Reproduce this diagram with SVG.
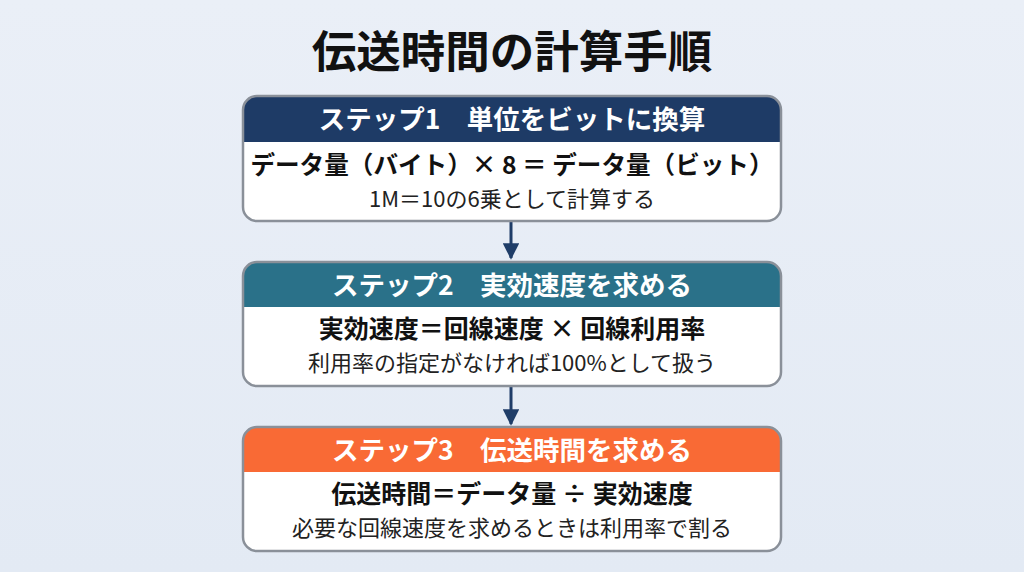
<svg xmlns="http://www.w3.org/2000/svg" width="1024" height="572" viewBox="0 0 1024 572">
<defs>
<linearGradient id="bg" x1="0" y1="0" x2="0" y2="1">
<stop offset="0" stop-color="#eaeff7"/>
<stop offset="1" stop-color="#e3eaf4"/>
</linearGradient>
<marker id="arr" viewBox="0 0 10 10" refX="9" refY="5" markerWidth="5.5" markerHeight="5.5" orient="auto" markerUnits="strokeWidth">
<path d="M0,0 L10,5 L0,10 z" fill="#1f3d68"/>
</marker>
<clipPath id="c1"><rect x="243" y="96" width="538" height="125" rx="14"/></clipPath>
<clipPath id="c2"><rect x="243" y="262" width="538" height="124" rx="14"/></clipPath>
<clipPath id="c3"><rect x="243" y="427" width="538" height="124" rx="14"/></clipPath>
</defs>
<style>
text{font-family:"Noto Sans CJK JP","Noto Sans",sans-serif;text-anchor:middle}
.title{font-size:44.5px;font-weight:700;fill:#111}
.hd{font-size:26.5px;font-weight:700;fill:#fff}
.main{font-size:25px;font-weight:700;fill:#111}
.sub{font-size:22px;font-weight:400;fill:#222}
.frame{fill:none;stroke:#8a9099;stroke-width:2.5}
.body{fill:#fff}
.conn{stroke:#1f3d68;stroke-width:3;fill:none}
</style>
<rect width="1024" height="572" fill="url(#bg)"/>
<text class="title" x="512" y="68">伝送時間の計算手順</text>
<g id="connectors">
<line class="conn" x1="511" y1="222" x2="511" y2="258" marker-end="url(#arr)"/>
<line class="conn" x1="511" y1="387" x2="511" y2="424" marker-end="url(#arr)"/>
</g>
<g id="step1">
<g clip-path="url(#c1)">
<rect class="body" x="243" y="96" width="538" height="125"/>
<rect x="243" y="96" width="538" height="46" fill="#1e3b66"/>
</g>
<rect class="frame" x="243" y="96" width="538" height="125" rx="14"/>
<text class="hd" x="512" y="129">ステップ1　単位をビットに換算</text>
<text class="main" x="512" y="174" style="font-size:24.6px">データ量（バイト）× 8 ＝ データ量（ビット）</text>
<text class="sub" x="512" y="207">1M＝10の6乗として計算する</text>
</g>
<g id="step2">
<g clip-path="url(#c2)">
<rect class="body" x="243" y="262" width="538" height="124"/>
<rect x="243" y="262" width="538" height="45" fill="#2a7189"/>
</g>
<rect class="frame" x="243" y="262" width="538" height="124" rx="14"/>
<text class="hd" x="512" y="295">ステップ2　実効速度を求める</text>
<text class="main" x="512" y="338">実効速度＝回線速度 × 回線利用率</text>
<text class="sub" x="512" y="371">利用率の指定がなければ100%として扱う</text>
</g>
<g id="step3">
<g clip-path="url(#c3)">
<rect class="body" x="243" y="427" width="538" height="124"/>
<rect x="243" y="427" width="538" height="45" fill="#f96a35"/>
</g>
<rect class="frame" x="243" y="427" width="538" height="124" rx="14"/>
<text class="hd" x="512" y="460">ステップ3　伝送時間を求める</text>
<text class="main" x="512" y="503">伝送時間＝データ量 ÷ 実効速度</text>
<text class="sub" x="512" y="536">必要な回線速度を求めるときは利用率で割る</text>
</g>
</svg>
